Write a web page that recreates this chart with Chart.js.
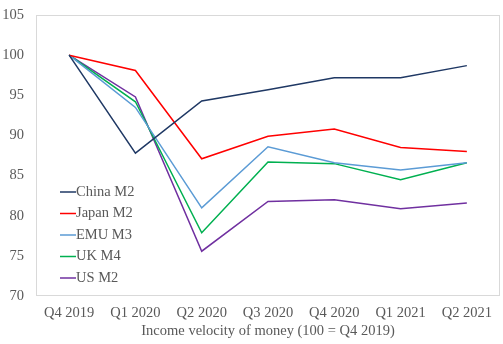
<!DOCTYPE html>
<html>
<head>
<meta charset="utf-8">
<script src="https://cdn.jsdelivr.net/npm/chart.js@4/dist/chart.umd.min.js"></script>
<style>
  html, body { margin: 0; padding: 0; background: #fff; }
  #wrap { width: 503px; height: 344px; }
</style>
</head>
<body>
<div id="wrap"><canvas id="velocity"></canvas></div>
<script>
// quarters on the x axis
const quarters = ["Q4 2019", "Q1 2020", "Q2 2020", "Q3 2020", "Q4 2020", "Q1 2021", "Q2 2021"];

// income velocity indexed to Q4 2019 = 100
const chinaM2 = [100, 87.8, 94.3, 95.7, 97.2, 97.2, 98.7];
const japanM2 = [100, 98.1, 87.1, 89.9, 90.8, 88.5, 88.0];
const emuM3   = [100, 93.5, 81.0, 88.6, 86.6, 85.7, 86.6];
const ukM4    = [100, 94.2, 77.9, 86.7, 86.5, 84.5, 86.6];
const usM2    = [100, 94.8, 75.6, 81.8, 82.0, 80.9, 81.6];

const seriesNames = ["China M2", "Japan M2", "EMU M3", "UK M4", "US M2"];
const seriesColors = ["#1f3864", "#ff0000", "#5b9bd5", "#00b050", "#7030a0"];

const yTicks = [70, 75, 80, 85, 90, 95, 100, 105];

const FONT = "'Liberation Serif', 'Times New Roman', serif";
const FONT_SIZE = 14.5;
const TEXT_COLOR = "#595959";

// light frame around the plot area
const frame = {
    id: "frame",
    beforeDatasetsDraw(chart) {
        const { ctx, chartArea: a } = chart;
        ctx.save();
        ctx.strokeStyle = "#d9d9d9";
        ctx.lineWidth = 1;
        ctx.strokeRect(Math.round(a.left) + 0.5, Math.round(a.top) + 0.5,
            Math.round(a.right - a.left) - 1, Math.round(a.bottom - a.top) - 1);
        ctx.restore();
    }
};

// legend drawn inside the plot, lower left
const innerLegend = {
    id: "innerLegend",
    afterDatasetsDraw(chart) {
        const { ctx, chartArea: a } = chart;
        const x0 = a.left + 24;
        const y0 = a.top + 177;
        ctx.save();
        ctx.font = FONT_SIZE + "px " + FONT;
        ctx.textBaseline = "middle";
        chart.data.datasets.forEach((ds, i) => {
            const y = y0 + i * 21.5;
            ctx.strokeStyle = ds.borderColor;
            ctx.lineWidth = 1.5;
            ctx.beginPath();
            ctx.moveTo(x0, y);
            ctx.lineTo(x0 + 16, y);
            ctx.stroke();
            ctx.fillStyle = TEXT_COLOR;
            ctx.fillText(ds.label, x0 + 16, y);
        });
        ctx.restore();
    }
};

const allSeries = [chinaM2, japanM2, emuM3, ukM4, usM2];

new Chart(document.getElementById("velocity"), {
    type: "line",
    data: {
        labels: quarters,
        datasets: allSeries.map((values, i) => ({
            label: seriesNames[i],
            data: values,
            borderColor: seriesColors[i],
            backgroundColor: seriesColors[i],
            borderWidth: 1.5,
            pointRadius: 0,
            tension: 0,
            fill: false
        }))
    },
    options: {
        responsive: true,
        maintainAspectRatio: false,
        animation: false,
        layout: { padding: { top: 15, right: 3, bottom: 4, left: 0 } },
        plugins: {
            legend: { display: false },
            tooltip: { enabled: false }
        },
        scales: {
            x: {
                offset: true,
                grid: { display: false, drawTicks: false },
                border: { display: false },
                ticks: {
                    color: TEXT_COLOR,
                    font: { family: FONT, size: FONT_SIZE },
                    padding: 8,
                    maxRotation: 0,
                    autoSkip: false
                },
                title: {
                    display: true,
                    text: "Income velocity of money (100 = Q4 2019)",
                    color: TEXT_COLOR,
                    font: { family: FONT, size: FONT_SIZE },
                    padding: { top: -7, bottom: 0 }
                }
            },
            y: {
                min: 70,
                max: 105,
                afterBuildTicks(scale) {
                    scale.ticks = yTicks.map(v => ({ value: v }));
                },
                afterFit(scale) {
                    scale.width = 36;
                    scale.paddingTop = 0;
                    scale.paddingBottom = 0;
                },
                grid: { display: false, drawTicks: false },
                border: { display: false },
                ticks: {
                    color: TEXT_COLOR,
                    font: { family: FONT, size: FONT_SIZE },
                    padding: 12
                }
            }
        }
    },
    plugins: [frame, innerLegend]
});
</script>
</body>
</html>
